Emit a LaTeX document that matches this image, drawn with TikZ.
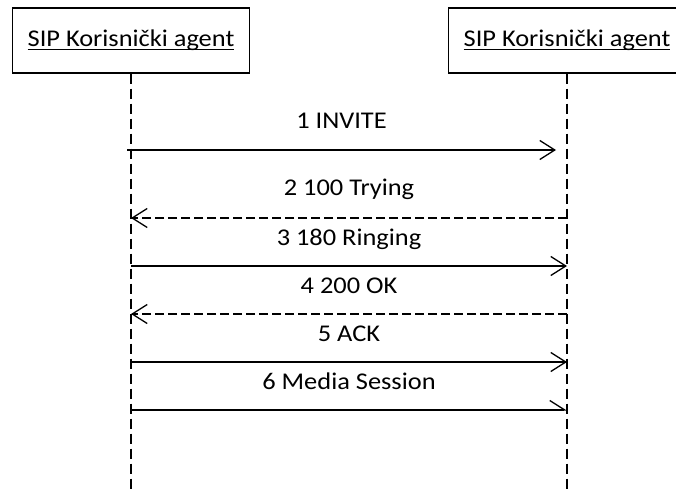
\documentclass[tikz,border=0pt]{standalone}
\usepackage{fontspec}
\setmainfont{Carlito}[FakeStretch=1.1]
\usetikzlibrary{arrows.meta}
\newcommand{\ulagent}[1]{\setbox0=\hbox{#1}\rlap{\rule[-3pt]{\wd0}{1.1pt}}\box0}
\begin{document}
\begin{tikzpicture}[x=1pt,y=-1pt,
  agentbox/.style={draw,line width=1.4pt,minimum width=237pt,minimum height=65pt,inner sep=0pt,font=\fontsize{24}{29}\selectfont},
  lifeline/.style={line width=1.2pt,dash pattern=on 10pt off 5pt},
  msgtext/.style={font=\fontsize{24}{29}\selectfont,inner sep=0pt,anchor=base},
  req/.style={line width=1.3pt,-{Straight Barb[length=15pt,width=19pt,line width=1.3pt]}},
  resp/.style={line width=1.3pt,dash pattern=on 9pt off 4pt,-{Straight Barb[length=15pt,width=19pt,line width=1.3pt]}},
  half/.style={line width=1.3pt,-{Straight Barb[left,length=15pt,width=19pt,line width=1.3pt]}}]
\useasboundingbox (0,0) rectangle (676,489);
\clip (0,0) rectangle (676,489);
\fill[white] (0,0) rectangle (676,489);
\node[agentbox] (A) at (131,40.5) {\ulagent{SIP Korisnički agent}};
\node[agentbox] (B) at (567,40.5) {\ulagent{SIP Korisnički agent}};
\coordinate (Aend) at (131,489);
\coordinate (Bend) at (567,489);
\draw[lifeline] (A.south) -- (Aend);
\draw[lifeline] (B.south) -- (Bend);
% message endpoints
\coordinate (a1) at (127,150); \coordinate (b1) at (556,150);
\coordinate (a2) at (131,218); \coordinate (b2) at (567,218);
\coordinate (a3) at (131,266); \coordinate (b3) at (567,266);
\coordinate (a4) at (131,314); \coordinate (b4) at (567,314);
\coordinate (a5) at (131,362); \coordinate (b5) at (567,362);
\coordinate (a6) at (131,410); \coordinate (b6) at (567,410);
\draw[req] (a1) -- (b1) node[msgtext,midway,yshift=21pt] {1 INVITE};
\draw[resp] (b2) -- (a2) node[msgtext,midway,yshift=23pt] {2 100 Trying};
\draw[req] (a3) -- (b3) node[msgtext,midway,yshift=21pt] {3 180 Ringing};
\draw[resp] (b4) -- (a4) node[msgtext,midway,yshift=21pt] {4 200 OK};
\draw[req] (a5) -- (b5) node[msgtext,midway,yshift=21pt] {5 ACK};
\draw[half] (a6) -- (b6) node[msgtext,midway,yshift=21pt] {6 Media Session};
\end{tikzpicture}
\end{document}
